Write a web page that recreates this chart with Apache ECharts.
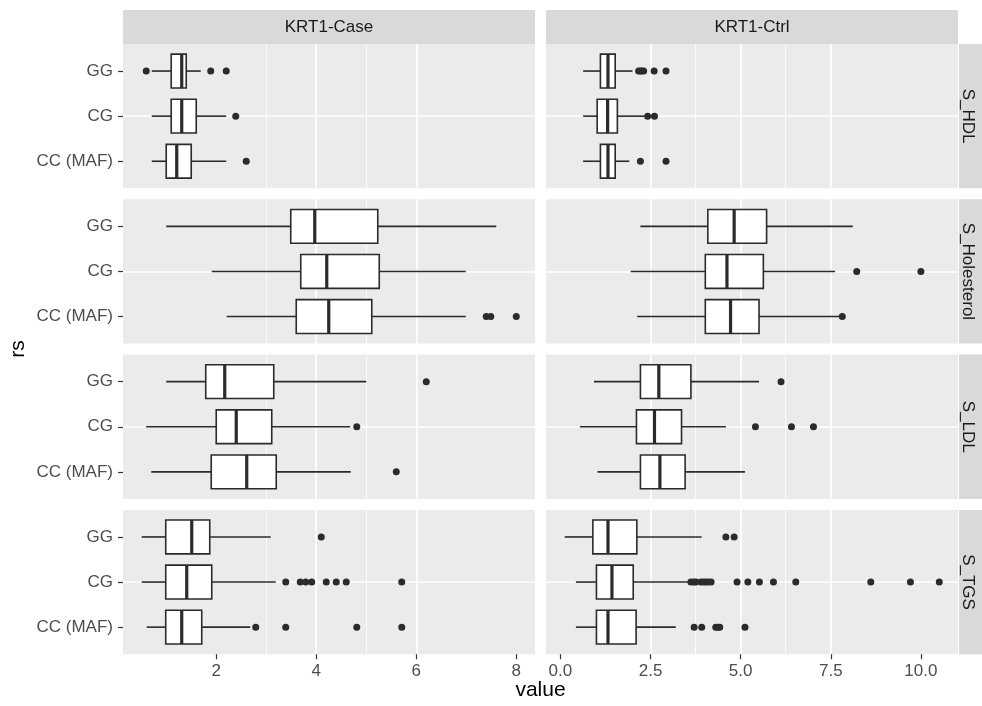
<!DOCTYPE html>
<html>
<head>
<meta charset="utf-8">
<script src="https://cdn.jsdelivr.net/npm/echarts@6/dist/echarts.min.js"></script>
<style>html,body{margin:0;padding:0;background:#fff;}#chart{width:982px;height:706px;}</style>
</head>
<body>
<div id="chart"></div>
<script>
// ---------- data ----------
const genotypes = ['GG', 'CG', 'CC (MAF)'];
const groups = ['KRT1-Case', 'KRT1-Ctrl'];
const measures = ['S_HDL', 'S_Holesterol', 'S_LDL', 'S_TGS'];

// box stats per genotype: [min whisker, Q1, median, Q3, max whisker]
const caseHDL = [[0.71, 1.10, 1.31, 1.40, 1.69], [0.71, 1.10, 1.31, 1.60, 2.20], [0.71, 1.00, 1.21, 1.50, 2.20]];
const caseHDLOut = [[0.60, 1.89, 2.20], [2.39], [2.60]];
const caseChol = [[1.00, 3.49, 3.97, 5.23, 7.60], [1.91, 3.69, 4.21, 5.26, 6.99], [2.21, 3.60, 4.25, 5.11, 6.99]];
const caseCholOut = [[], [], [7.40, 7.49, 8.00]];
const caseLDL = [[1.00, 1.79, 2.17, 3.15, 5.00], [0.60, 2.00, 2.40, 3.11, 4.68], [0.70, 1.90, 2.61, 3.20, 4.69]];
const caseLDLOut = [[6.20], [4.81], [5.60]];
const caseTGS = [[0.51, 0.99, 1.51, 1.87, 3.09], [0.51, 0.99, 1.41, 1.91, 3.19], [0.61, 0.99, 1.31, 1.71, 2.68]];
const caseTGSOut = [[4.10], [3.39, 3.68, 3.79, 3.91, 4.20, 4.40, 4.60, 5.71], [2.79, 3.39, 4.81, 5.71]];

const ctrlHDL = [[0.63, 1.11, 1.32, 1.52, 2.00], [0.63, 1.02, 1.31, 1.58, 2.33], [0.63, 1.11, 1.32, 1.52, 1.91]];
const ctrlHDLOut = [[2.17, 2.22, 2.26, 2.31, 2.60, 2.93], [2.42, 2.61], [2.22, 2.93]];
const ctrlChol = [[2.22, 4.09, 4.82, 5.72, 8.11], [1.95, 4.02, 4.62, 5.63, 7.62], [2.13, 4.02, 4.72, 5.51, 7.76]];
const ctrlCholOut = [[], [8.22, 10.00], [7.82]];
const ctrlLDL = [[0.93, 2.22, 2.73, 3.62, 5.51], [0.54, 2.11, 2.61, 3.36, 4.59], [1.03, 2.22, 2.76, 3.46, 5.12]];
const ctrlLDLOut = [[6.12], [5.41, 6.41, 7.02], []];
const ctrlTGS = [[0.12, 0.90, 1.32, 2.12, 3.92], [0.43, 1.00, 1.43, 2.02, 3.55], [0.43, 1.00, 1.32, 2.10, 3.20]];
const ctrlTGSOut = [[4.59, 4.82], [3.62, 3.70, 3.76, 3.90, 3.97, 4.04, 4.10, 4.18, 4.90, 5.20, 5.52, 5.91, 6.53, 8.61, 9.71, 10.51], [3.71, 3.92, 4.31, 4.37, 4.42, 5.12]];

const caseTicks = [2, 4, 6, 8];
const caseMinorTicks = [1, 3, 5, 7];
const ctrlTicks = [0, 2.5, 5, 7.5, 10];
const ctrlMinorTicks = [1.25, 3.75, 6.25, 8.75];

// ---------- assembly ----------
const boxStats = [[caseHDL, ctrlHDL], [caseChol, ctrlChol], [caseLDL, ctrlLDL], [caseTGS, ctrlTGS]];
const outliers = [[caseHDLOut, ctrlHDLOut], [caseCholOut, ctrlCholOut], [caseLDLOut, ctrlLDLOut], [caseTGSOut, ctrlTGSOut]];
const majorTicks = [caseTicks, ctrlTicks];
const minorTicks = [caseMinorTicks, ctrlMinorTicks];
const tickFmt = [v => String(v), v => v.toFixed(1)];

// free x scale per column, ggplot-like 5% expansion
const extents = [0, 1].map(c => {
  let lo = Infinity, hi = -Infinity;
  for (let r = 0; r < 4; r++) {
    boxStats[r][c].forEach(s => { lo = Math.min(lo, s[0]); hi = Math.max(hi, s[4]); });
    outliers[r][c].forEach(o => o.forEach(v => { lo = Math.min(lo, v); hi = Math.max(hi, v); }));
  }
  const pad = (hi - lo) * 0.05;
  return [lo - pad, hi + pad];
});

const FONT = '"Liberation Sans", Arial, sans-serif';
const TICK_FS = 17, STRIP_FS = 17, TITLE_FS = 21;
const colLeft = [123, 546];
const colW = 412;
const rowTop = [44, 199.3, 354.6, 509.9];
const rowH = 144.3;
const stripTop = 10, stripH = 34;
const rStripX = 959, rStripW = 23;

const grids = [], xAxes = [], yAxes = [], series = [];

function renderBox(params, api) {
  const pos = api.value(0);
  const pMin = api.coord([api.value(1), pos]);
  const pQ1 = api.coord([api.value(2), pos]);
  const pMed = api.coord([api.value(3), pos]);
  const pQ3 = api.coord([api.value(4), pos]);
  const pMax = api.coord([api.value(5), pos]);
  const h = api.size([0, 0.75], [api.value(3), pos])[1];
  const stroke = '#2B2B2B';
  return {
    type: 'group',
    children: [
      { type: 'line', shape: { x1: pMin[0], y1: pMin[1], x2: pQ1[0], y2: pQ1[1] }, style: { stroke, lineWidth: 1.6 } },
      { type: 'line', shape: { x1: pQ3[0], y1: pQ3[1], x2: pMax[0], y2: pMax[1] }, style: { stroke, lineWidth: 1.6 } },
      { type: 'rect', shape: { x: pQ1[0], y: pQ1[1] - h / 2, width: pQ3[0] - pQ1[0], height: h }, style: { fill: '#ffffff', stroke, lineWidth: 1.6 } },
      { type: 'line', shape: { x1: pMed[0], y1: pMed[1] - h / 2, x2: pMed[0], y2: pMed[1] + h / 2 }, style: { stroke, lineWidth: 3.2 } }
    ]
  };
}

for (let r = 0; r < 4; r++) {
  for (let c = 0; c < 2; c++) {
    const gi = r * 2 + c;
    grids.push({ left: colLeft[c], top: rowTop[r], width: colW, height: rowH, show: true, backgroundColor: '#EBEBEB', borderWidth: 0 });
    // minor grid axis
    xAxes.push({
      gridIndex: gi, type: 'value', min: extents[c][0], max: extents[c][1], position: 'bottom',
      axisLine: { show: false }, axisTick: { show: false, customValues: minorTicks[c] },
      axisLabel: { show: false, customValues: minorTicks[c] },
      splitLine: { show: true, showMinLine: false, showMaxLine: false, lineStyle: { color: '#FFFFFF', width: 0.8 } }
    });
    // major / data axis
    xAxes.push({
      gridIndex: gi, type: 'value', min: extents[c][0], max: extents[c][1], position: 'bottom',
      axisLine: { show: false },
      axisTick: { show: r === 3, length: 5, customValues: majorTicks[c], lineStyle: { color: '#333333', width: 1.2 } },
      axisLabel: { show: r === 3, customValues: majorTicks[c], formatter: tickFmt[c], color: '#4D4D4D', fontSize: TICK_FS, fontFamily: FONT, margin: 9 },
      splitLine: { show: true, showMinLine: false, showMaxLine: false, lineStyle: { color: '#FFFFFF', width: 1.6 } }
    });
    yAxes.push({
      gridIndex: gi, type: 'value', inverse: true, min: 0.4, max: 3.6,
      axisLine: { show: false },
      axisTick: { show: c === 0, length: 5, customValues: [1, 2, 3], lineStyle: { color: '#333333', width: 1.2 } },
      axisLabel: { show: c === 0, customValues: [1, 2, 3], formatter: v => genotypes[Math.round(v) - 1] || '', color: '#4D4D4D', fontSize: TICK_FS, fontFamily: FONT, margin: 10 },
      splitLine: { show: true, showMinLine: false, showMaxLine: false, lineStyle: { color: '#FFFFFF', width: 1.6 } }
    });
    series.push({
      type: 'custom', xAxisIndex: gi * 2 + 1, yAxisIndex: gi, renderItem: renderBox,
      encode: { x: [1, 2, 3, 4, 5], y: 0 }, silent: true, z: 3,
      data: boxStats[r][c].map((s, k) => [k + 1].concat(s))
    });
    const pts = [];
    outliers[r][c].forEach((o, k) => o.forEach(v => pts.push([v, k + 1])));
    series.push({
      type: 'scatter', xAxisIndex: gi * 2 + 1, yAxisIndex: gi, symbol: 'circle', symbolSize: 7,
      itemStyle: { color: '#2B2B2B', opacity: 1 }, silent: true, z: 4, data: pts
    });
  }
}

const graphics = [];
groups.forEach((g, c) => {
  graphics.push({ type: 'rect', shape: { x: colLeft[c], y: stripTop, width: colW, height: stripH }, style: { fill: '#D9D9D9' }, silent: true });
  graphics.push({ type: 'text', x: colLeft[c] + colW / 2, y: stripTop + stripH / 2, style: { text: g, fill: '#1A1A1A', font: STRIP_FS + 'px ' + FONT, align: 'center', verticalAlign: 'middle' }, silent: true });
});
measures.forEach((m, r) => {
  graphics.push({ type: 'rect', shape: { x: rStripX, y: rowTop[r], width: rStripW, height: rowH }, style: { fill: '#D9D9D9' }, silent: true });
  graphics.push({ type: 'text', x: rStripX + 9, y: rowTop[r] + rowH / 2, rotation: -Math.PI / 2, style: { text: m, fill: '#1A1A1A', font: STRIP_FS + 'px ' + FONT, align: 'center', verticalAlign: 'middle' }, silent: true });
});
graphics.push({ type: 'text', x: (colLeft[0] + colLeft[1] + colW) / 2, y: 690, style: { text: 'value', fill: '#000000', font: TITLE_FS + 'px ' + FONT, align: 'center', verticalAlign: 'middle' }, silent: true });
graphics.push({ type: 'text', x: 18, y: (rowTop[0] + rowTop[3] + rowH) / 2, rotation: Math.PI / 2, style: { text: 'rs', fill: '#000000', font: TITLE_FS + 'px ' + FONT, align: 'center', verticalAlign: 'middle' }, silent: true });

const chart = echarts.init(document.getElementById('chart'), null, { renderer: 'canvas' });
chart.setOption({
  animation: false,
  backgroundColor: '#FFFFFF',
  grid: grids,
  xAxis: xAxes,
  yAxis: yAxes,
  series: series,
  graphic: graphics
});
</script>
</body>
</html>
